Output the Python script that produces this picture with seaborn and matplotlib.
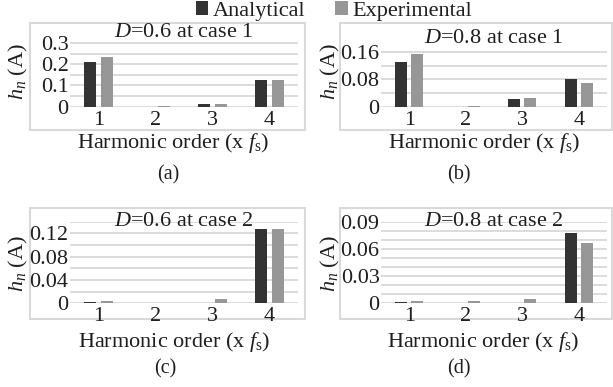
import numpy as np
import pandas as pd
import matplotlib
matplotlib.use("Agg")
import matplotlib.pyplot as plt
from matplotlib.patches import Rectangle, Patch
import seaborn as sns

# ---------------- data ----------------
harmonics = ["1", "2", "3", "4"]
series_names = ["Analytical", "Experimental"]

a_analytical = [0.209, 0.0, 0.012, 0.126]
a_experimental = [0.236, 0.0005, 0.014, 0.127]

b_analytical = [0.131, 0.0, 0.022, 0.080]
b_experimental = [0.155, 0.003, 0.026, 0.069]

c_analytical = [0.002, 0.0, 0.0, 0.128]
c_experimental = [0.004, 0.001, 0.008, 0.128]

d_analytical = [0.001, 0.0, 0.0, 0.078]
d_experimental = [0.003, 0.003, 0.005, 0.066]

titles = [r"$D$=0.6 at case 1", r"$D$=0.8 at case 1",
          r"$D$=0.6 at case 2", r"$D$=0.8 at case 2"]
captions = ["(a)", "(b)", "(c)", "(d)"]
ytick_labels = [["0", "0.1", "0.2", "0.3"],
                ["0", "0.08", "0.16"],
                ["0", "0.04", "0.08", "0.12"],
                ["0", "0.03", "0.06", "0.09"]]
ytick_values = [[0, 0.1, 0.2, 0.3],
                [0, 0.08, 0.16],
                [0, 0.04, 0.08, 0.12],
                [0, 0.03, 0.06, 0.09]]
ygrid_minor = [[0.05, 0.15, 0.25],
               [0.04, 0.12],
               [0.02, 0.06, 0.10, 0.14],
               [0.01, 0.02, 0.04, 0.05, 0.07, 0.08]]
ylims = [0.35, 0.2, 0.14, 0.09]

panels = [(a_analytical, a_experimental), (b_analytical, b_experimental),
          (c_analytical, c_experimental), (d_analytical, d_experimental)]

# ---------------- style ----------------
sns.set_theme(style="white")
plt.rcParams["font.family"] = ["Liberation Serif", "DejaVu Serif"]
plt.rcParams["mathtext.fontset"] = "custom"
plt.rcParams["mathtext.rm"] = "Liberation Serif"
plt.rcParams["mathtext.it"] = "Liberation Serif:italic"
plt.rcParams["mathtext.bf"] = "Liberation Serif:bold"

W, H = 613, 387
FS = 16
GRID = "#d9d9d9"
TXT = "#1e1e1e"
palette = {"Analytical": "#333333", "Experimental": "#979797"}

fig = plt.figure(figsize=(W / 100, H / 100), dpi=100)


def px_axes(x0, x1, ytop, ybot):
    return [x0 / W, 1 - ybot / H, (x1 - x0) / W, (ybot - ytop) / H]


axes_px = [(70, 298, 32.5, 106.5), (381, 607, 38.7, 106.7),
           (70, 298, 221.7, 303.3), (381, 607, 221.7, 303.3)]
boxes_px = [(30, 305, 23, 130), (340, 612, 23, 130),
            (30, 305, 208, 319), (340, 612, 208, 319)]
ylabel_px = [(18, 72), (330, 72), (18, 264), (330, 264)]
xlabel_px = [(173, 143), (484, 143), (174, 342), (483, 342)]
caption_px = [(168, 175), (459, 175), (165, 369), (459, 369)]

for i, (ana, exp) in enumerate(panels):
    # outer chart-area box
    bx0, bx1, by0, by1 = boxes_px[i]
    fig.add_artist(Rectangle((bx0 / W, 1 - by1 / H), (bx1 - bx0) / W, (by1 - by0) / H,
                             transform=fig.transFigure, fill=False,
                             ec=GRID, lw=1.5, zorder=0))

    ax = fig.add_axes(px_axes(*axes_px[i]))
    df = pd.DataFrame({
        "Harmonic": harmonics * 2,
        "Series": [series_names[0]] * 4 + [series_names[1]] * 4,
        "Value": list(ana) + list(exp),
    })
    sns.barplot(data=df, x="Harmonic", y="Value", hue="Series",
                palette=palette, width=0.57, gap=0.25, legend=False,
                ax=ax, linewidth=0, zorder=3)
    ax.set_ylim(0, ylims[i])
    ax.set_yticks(ytick_values[i])
    ax.set_yticklabels(ytick_labels[i])
    ax.set_yticks(ygrid_minor[i], minor=True)
    ax.set_axisbelow(True)
    ax.grid(True, axis="y", which="both", color=GRID, lw=1.3)
    ax.grid(False, axis="x")
    for s in ax.spines.values():
        s.set_visible(False)
    ax.tick_params(axis="both", which="both", length=0, labelsize=FS,
                   colors=TXT)
    ax.tick_params(axis="y", pad=1)
    ax.tick_params(axis="x", pad=3)
    ax.set_xlabel("")
    ax.set_ylabel("")
    ax.patch.set_alpha(0)
    ax.text(0.5, 1.0, titles[i], transform=ax.transAxes, ha="center",
            va="center", fontsize=FS, color=TXT)

    yx, yy = ylabel_px[i]
    fig.text(yx / W, 1 - yy / H, r"$h_n$ (A)", rotation=90, ha="center",
             va="center", fontsize=FS, color=TXT)
    xx, xy = xlabel_px[i]
    fig.text(xx / W, 1 - xy / H, r"Harmonic order (x $f_{\mathrm{s}}$)",
             ha="center", va="center", fontsize=FS, color=TXT)
    cx, cy = caption_px[i]
    fig.text(cx / W, 1 - cy / H, captions[i], ha="center", va="center",
             fontsize=FS - 1.5, color=TXT)

handles = [Patch(facecolor=palette[n], edgecolor="none", label=n) for n in series_names]
fig.legend(handles=handles, ncol=2, loc="center left",
           bbox_to_anchor=(196 / W, 1 - 11 / H), frameon=False,
           fontsize=FS, handlelength=0.55, handleheight=0.55,
           handletextpad=0.2, columnspacing=1.35, borderpad=0,
           borderaxespad=0, labelcolor=TXT)

fig.savefig("out.png", dpi=100)
